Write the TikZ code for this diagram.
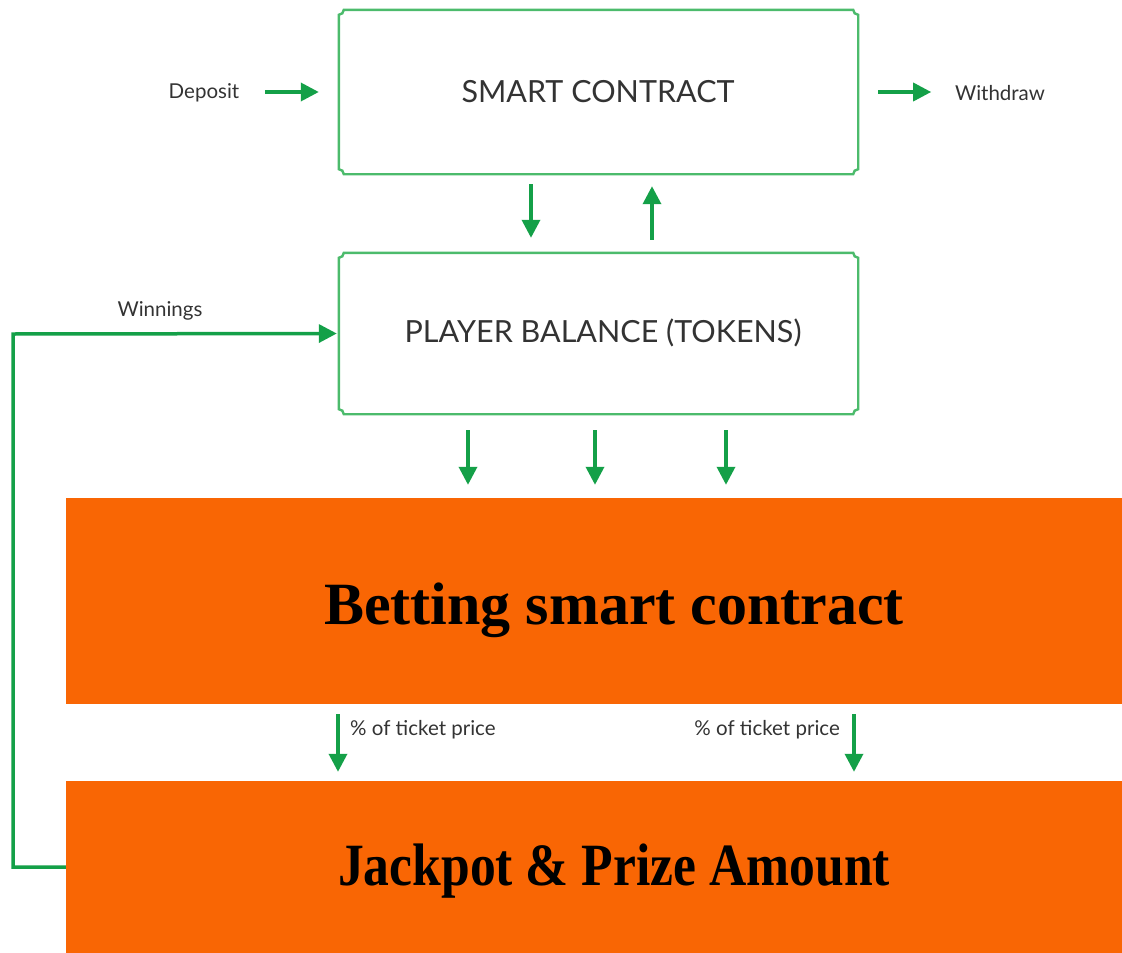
\documentclass[tikz,border=0pt]{standalone}
\usepackage{fontspec}
\setmainfont{Lato}
\newfontfamily\serifbold{Liberation Serif}
\usetikzlibrary{arrows.meta,calc}
\definecolor{boxgreen}{HTML}{4CBB6C}
\definecolor{arrgreen}{HTML}{14A048}
\definecolor{orangefill}{HTML}{F96604}
\definecolor{labelgray}{HTML}{333333}
\tikzset{
  boxline/.style={draw=boxgreen,line width=2.4pt},
  flow/.style={draw=arrgreen,line width=3.5pt,-{Triangle[length=18pt,width=18pt]}},
  lbl/.style={text=labelgray,font=\fontsize{20.5}{24}\selectfont,inner sep=0pt},
  boxtxt/.style={text=labelgray,font=\fontsize{30.5}{36}\selectfont},
  bigtxt/.style={text=black,font=\serifbold\bfseries\fontsize{60}{68}\selectfont},
  orangebox/.style={fill=orangefill,draw=none,inner sep=0pt},
}
\newcommand\notchframe[1]{%
  \draw[boxline]
    ([yshift=-5pt]#1.north west) .. controls ([xshift=2.76pt,yshift=-5pt]#1.north west) and ([xshift=5pt,yshift=-2.76pt]#1.north west) .. ([xshift=5pt]#1.north west)
    -- ([xshift=-5pt]#1.north east) .. controls ([xshift=-5pt,yshift=-2.76pt]#1.north east) and ([xshift=-2.76pt,yshift=-5pt]#1.north east) .. ([yshift=-5pt]#1.north east)
    -- ([yshift=5pt]#1.south east) .. controls ([xshift=-2.76pt,yshift=5pt]#1.south east) and ([xshift=-5pt,yshift=2.76pt]#1.south east) .. ([xshift=-5pt]#1.south east)
    -- ([xshift=5pt]#1.south west) .. controls ([xshift=5pt,yshift=2.76pt]#1.south west) and ([xshift=2.76pt,yshift=5pt]#1.south west) .. ([yshift=5pt]#1.south west)
    -- cycle;}
\begin{document}
\begin{tikzpicture}[x=1pt,y=-1pt]
\useasboundingbox (0,0) rectangle (1122,953);
% green boxes
\node[minimum width=519pt,minimum height=164pt,inner sep=0pt] (sc) at (598.5,92) {};
\node[boxtxt] at (598,92) {SMART CONTRACT};
\notchframe{sc}
\node[minimum width=519pt,minimum height=161pt,inner sep=0pt] (pb) at (598.5,333.5) {};
\node[boxtxt] at (603,333) {PLAYER BALANCE (TOKENS)};
\notchframe{pb}
% orange boxes
\node[orangebox,minimum width=1056pt,minimum height=206pt] (bet) at (594,601) {};
\node[bigtxt] at (614,610) {Betting smart contract};
\node[orangebox,minimum width=1056pt,minimum height=172pt] (jp) at (594,867) {};
\node[bigtxt,xscale=0.86,transform shape] at (614,871) {Jackpot \& Prize Amount};
% side labels
\node[lbl] (dep) at (204,93) {Deposit};
\node[lbl] (wd) at (1000,93) {Withdraw};
\node[lbl] (win) at (160,311) {Winnings};
\node[lbl,anchor=west] (p1) at (350,730) {\% of ticket price};
\node[lbl,anchor=east] (p2) at (840,730) {\% of ticket price};
% arrows
\draw[flow] ([xshift=-74pt]sc.west) -- ([xshift=-20pt]sc.west);
\draw[flow] ([xshift=20pt]sc.east) -- ([xshift=73pt]sc.east);
\draw[flow] ([xshift=-67.5pt,yshift=-10pt]sc.south) -- ([xshift=-67.5pt,yshift=15pt]pb.north);
\draw[flow] ([xshift=53.5pt,yshift=13pt]pb.north) -- ([xshift=53.5pt,yshift=-12pt]sc.south);
\foreach \x in {468,595,726}
  \draw[flow] ([yshift=-16pt]pb.south -| \x,0) -- ([yshift=13pt]bet.north -| \x,0);
\foreach \x in {338,854}
  \draw[flow] ([yshift=-10pt]bet.south -| \x,0) -- ([yshift=9pt]jp.north -| \x,0);
% winnings loop
\draw[flow] (jp.west) -| (13,334) -- ([xshift=-2pt]pb.west);
\end{tikzpicture}
\end{document}
